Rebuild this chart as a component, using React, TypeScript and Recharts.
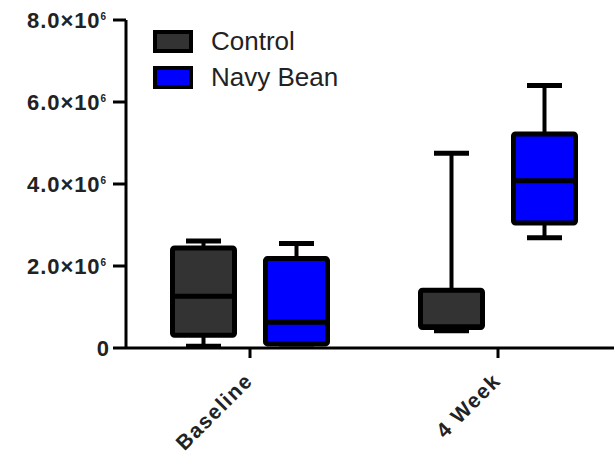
import { ComposedChart, Bar, XAxis, YAxis, Legend } from 'recharts';

const categories = ['Baseline', '4 Week'];
// per group: [min, q1, median, q3, max]
const controlStats = [
  [0.04e6, 0.31e6, 1.26e6, 2.44e6, 2.61e6],
  [0.42e6, 0.5e6, 0.52e6, 1.41e6, 4.75e6],
];
const navyBeanStats = [
  [0.1e6, 0.1e6, 0.63e6, 2.18e6, 2.55e6],
  [2.69e6, 3.05e6, 4.08e6, 5.22e6, 6.4e6],
];
const yTicks = [0, 2e6, 4e6, 6e6, 8e6];
const seriesNames = ['Control', 'Navy Bean'];
const seriesColors = ['#333333', '#0000ff'];

const FONT = "'Liberation Sans', Arial, sans-serif";

const data = categories.map((name, i) => ({
  name,
  control: [controlStats[i][0], controlStats[i][4]],
  controlStats: controlStats[i],
  navy: [navyBeanStats[i][0], navyBeanStats[i][4]],
  navyStats: navyBeanStats[i],
}));

// bar spans min..max, the rest is placed on the same linear scale
function makeBoxShape(statsKey: string, fill: string) {
  return (props: any) => {
    const { x, y, width, height, payload } = props;
    const [min, q1, med, q3, max] = payload[statsKey];
    const toY = (v: number) => y + ((max - v) / (max - min)) * height;
    const cx = x + width / 2;
    const cap = 17.5;
    const inset = 2.5;
    return (
      <g>
        <line x1={cx} x2={cx} y1={toY(max)} y2={toY(q3)} stroke="#000" strokeWidth={4} />
        <line x1={cx} x2={cx} y1={toY(q1)} y2={toY(min)} stroke="#000" strokeWidth={4} />
        <line x1={cx - cap} x2={cx + cap} y1={toY(max)} y2={toY(max)} stroke="#000" strokeWidth={5} />
        <line x1={cx - cap} x2={cx + cap} y1={toY(min)} y2={toY(min)} stroke="#000" strokeWidth={5} />
        <rect
          x={x + inset}
          y={toY(q3)}
          width={width - inset * 2}
          height={toY(q1) - toY(q3)}
          fill={fill}
          stroke="#000"
          strokeWidth={5}
          rx={2}
        />
        <line x1={x + inset} x2={x + width - inset} y1={toY(med)} y2={toY(med)} stroke="#000" strokeWidth={5} />
      </g>
    );
  };
}

const YTick = ({ x, y, payload }: any) => {
  const v = payload.value;
  if (v === 0) {
    return (
      <text x={x + 3} y={y} dy="0.36em" textAnchor="end" fontFamily={FONT} fontWeight="bold" fontSize={22} fill="#222">
        0
      </text>
    );
  }
  return (
    <text x={x} y={y} dy="0.36em" textAnchor="end" fontFamily={FONT} fontWeight="bold" fontSize={22} letterSpacing={0.9} fill="#222">
      {(v / 1e6).toFixed(1)}×10
      <tspan dy={-8} fontSize={10} letterSpacing={0}>6</tspan>
    </text>
  );
};

const XTick = ({ x, y, payload }: any) => {
  const tx = x + 4;
  const ty = y + 22;
  return (
    <text
      x={tx}
      y={ty}
      transform={`rotate(-45, ${tx}, ${ty})`}
      textAnchor="end"
      fontFamily={FONT}
      fontWeight="bold"
      fontSize={21}
      letterSpacing={1.5}
      fill="#222"
    >
      {payload.value}
    </text>
  );
};

const renderLegend = () => (
  <div style={{ fontFamily: FONT, fontSize: 26, color: '#222' }}>
    {seriesNames.map((n, i) => (
      <div key={n} style={{ display: 'flex', alignItems: 'center', height: 36 }}>
        <span
          style={{
            display: 'inline-block',
            width: 32,
            height: 15,
            border: '4px solid #000',
            background: seriesColors[i],
          }}
        />
        <span style={{ marginLeft: 18 }}>{n}</span>
      </div>
    ))}
  </div>
);

export default function App() {
  return (
    <div style={{ position: 'absolute', left: 0, top: 0, width: 614, height: 456, overflow: 'hidden', background: '#fff' }}>
      <ComposedChart
        width={622}
        height={456}
        data={data}
        margin={{ top: 20, right: 0, left: 0, bottom: 0 }}
        barSize={67}
        barGap={26}
      >
        <XAxis
          dataKey="name"
          height={108}
          axisLine={{ stroke: '#000', strokeWidth: 3 }}
          tickLine={{ stroke: '#000', strokeWidth: 3 }}
          tickSize={10}
          tickMargin={2}
          tick={<XTick />}
          interval={0}
        />
        <YAxis
          width={126}
          domain={[0, 8e6]}
          ticks={yTicks}
          axisLine={{ stroke: '#000', strokeWidth: 3 }}
          tickLine={{ stroke: '#000', strokeWidth: 3 }}
          tickSize={13}
          tickMargin={7}
          tick={<YTick />}
          interval={0}
        />
        {/* zero-height wrapper so the legend floats over the plot */}
        <Legend
          layout="vertical"
          verticalAlign="top"
          align="center"
          content={renderLegend}
          wrapperStyle={{ left: 153, top: 23, width: 260, height: 0, overflow: 'visible' }}
        />
        <Bar dataKey="control" name="Control" fill={seriesColors[0]} shape={makeBoxShape('controlStats', seriesColors[0])} isAnimationActive={false} />
        <Bar dataKey="navy" name="Navy Bean" fill={seriesColors[1]} shape={makeBoxShape('navyStats', seriesColors[1])} isAnimationActive={false} />
      </ComposedChart>
    </div>
  );
}
